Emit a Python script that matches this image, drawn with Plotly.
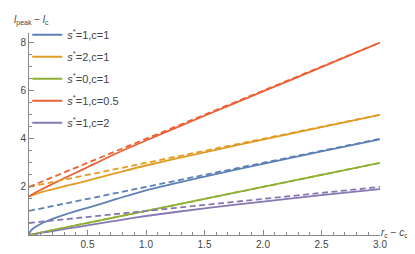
import plotly.graph_objects as go

# ---- data ----
x_curve = [0, 0.01, 0.03, 0.06, 0.1, 0.15, 0.2, 0.3, 0.4, 0.5, 0.75, 1.0, 1.5, 2.0, 2.5, 3.0]

blue_solid   = [0, 0.14, 0.25, 0.35, 0.46, 0.57, 0.67, 0.84, 0.99, 1.13, 1.50, 1.86, 2.43, 2.96, 3.48, 3.98]
orange_solid = [1.60, 1.62, 1.66, 1.71, 1.77, 1.84, 1.90, 2.02, 2.14, 2.26, 2.58, 2.89, 3.44, 3.97, 4.49, 5.0]
green_solid  = [0, 0.01, 0.03, 0.06, 0.1, 0.15, 0.2, 0.3, 0.4, 0.5, 0.75, 1.0, 1.5, 2.0, 2.5, 3.0]
red_solid    = [1.60, 1.63, 1.69, 1.78, 1.88, 2.00, 2.12, 2.36, 2.59, 2.82, 3.40, 3.93, 4.96, 5.97, 6.98, 8.0]
purple_solid = [0, 0.008, 0.025, 0.05, 0.085, 0.125, 0.165, 0.245, 0.32, 0.40, 0.60, 0.79, 1.11, 1.39, 1.66, 1.91]

x_line = [0, 3.0]
blue_dash   = [1.0, 4.0]
orange_dash = [2.0, 5.0]
green_dash  = [0.0, 3.0]
red_dash    = [2.0, 8.0]
purple_dash = [0.5, 2.0]

names = ["<i>s</i><sup>*</sup>=1,c=1", "<i>s</i><sup>*</sup>=2,c=1", "<i>s</i><sup>*</sup>=0,c=1",
         "<i>s</i><sup>*</sup>=1,c=0.5", "<i>s</i><sup>*</sup>=1,c=2"]
colors = ["#5E81B5", "#E19C24", "#8FB032", "#EB6235", "#8778B3"]

solids = [blue_solid, orange_solid, green_solid, red_solid, purple_solid]
dashes = [blue_dash, orange_dash, green_dash, red_dash, purple_dash]

x_ticks = [0.5, 1.0, 1.5, 2.0, 2.5, 3.0]
x_tick_text = ["0.5", "1.0", "1.5", "2.0", "2.5", "3.0"]
y_ticks = [2, 4, 6, 8]
y_tick_text = ["2", "4", "6", "8"]

FONT = "Arial"

fig = go.Figure()
for i, (ys, c, n) in enumerate(zip(solids, colors, names)):
    fig.add_trace(go.Scatter(x=x_curve, y=ys, mode="lines", name=n,
                             line=dict(color=c, width=1.8, shape="spline", smoothing=0.6),
                             legendgroup=f"g{i}"))
for ys, c in zip(dashes, colors):
    fig.add_trace(go.Scatter(x=x_line, y=ys, mode="lines", showlegend=False,
                             line=dict(color=c, width=1.8, dash="6px,3.5px")))

axis_common = dict(showline=True, linecolor="#888888", linewidth=1, showgrid=False, zeroline=False,
                   ticks="inside", tickcolor="#888888",
                   tickfont=dict(size=10, color="#444444", family=FONT))

fig.update_layout(
    width=415, height=254,
    margin=dict(l=17, r=43, t=22, b=16),
    paper_bgcolor="white", plot_bgcolor="white",
    font=dict(family=FONT, size=10, color="#444444"),
    showlegend=True,
    legend=dict(x=-0.005, y=1.063, xanchor="left", yanchor="top", bgcolor="rgba(0,0,0,0)",
                font=dict(size=11, color="#444444", family=FONT),
                tracegroupgap=3, itemwidth=30),
    xaxis=dict(range=[0, 3.0], tickvals=x_ticks, ticktext=x_tick_text, ticklen=5,
               minor=dict(dtick=0.1, ticklen=3, ticks="inside", tickcolor="#888888"),
               **axis_common),
    yaxis=dict(range=[0, 8.4], tickvals=y_ticks, ticktext=y_tick_text, ticklen=5,
               minor=dict(dtick=0.5, ticklen=3, ticks="inside", tickcolor="#888888"),
               **axis_common),
    annotations=[
        dict(text="<i>l</i><sub>peak</sub> − <i>l</i><sub>c</sub>", xref="paper", yref="paper",
             x=0, y=1, xshift=-17, yshift=4, xanchor="left", yanchor="bottom", showarrow=False,
             align="left", font=dict(size=10, color="#444444", family=FONT)),
        dict(text="<i>r</i><sub>c</sub> − <i>c</i><sub>c</sub>", xref="paper", yref="paper",
             x=1, y=0, xshift=-1, yshift=2, xanchor="left", yanchor="middle", showarrow=False,
             align="left", font=dict(size=10, color="#444444", family=FONT)),
    ],
)

fig.write_html("out.html")
